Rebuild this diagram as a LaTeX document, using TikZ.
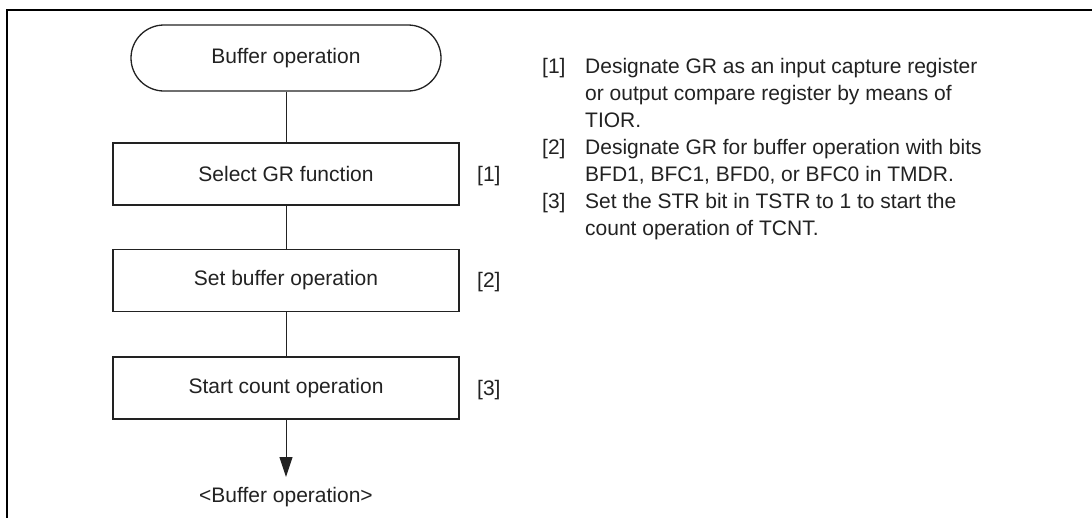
\documentclass[tikz,border=0pt]{standalone}
\usepackage{fontspec}
\setmainfont{Liberation Sans}
\usetikzlibrary{arrows.meta}
\definecolor{ink}{HTML}{222222}
\begin{document}
\begin{tikzpicture}[x=1pt,y=-1pt,
  font=\fontsize{21}{27}\selectfont, text=ink,
  term/.style={draw=ink, line width=1.3pt, rounded corners=33pt, minimum width=310pt, minimum height=66pt, inner sep=0pt},
  stepbox/.style={draw=ink, line width=1.3pt, minimum width=346pt, minimum height=62pt, inner sep=0pt},
  conn/.style={draw=ink, line width=1pt},
  tag/.style={anchor=west, inner sep=0pt},
  line/.style={anchor=base west, inner sep=0pt}]
\useasboundingbox (0,0) rectangle (1092,517);
\fill[white] (0,0) rectangle (1092,517);
\draw[line width=2.2pt, black] (7,518) -- (7,10) -- (1093,10);

\node[term] (start) at (286,58) {Buffer operation};
\node[stepbox] (b1) at (286,174) {Select GR function};
\node[stepbox] (b2) at (286,280.5) {Set buffer operation};
\node[stepbox] (b3) at (286,388) {Start count operation};
\coordinate (endc) at (286,477);
\node[anchor=base, inner sep=0pt] (endt) at (286,502) {<Buffer operation>};

\node[tag] (l1) at (477,176) {[1]};
\node[tag] (l2) at (477,282.5) {[2]};
\node[tag] (l3) at (477,390) {[3]};

\draw[conn] (start) -- (b1);
\draw[conn] (b1) -- (b2);
\draw[conn] (b2) -- (b3);
\draw[conn, -{Triangle[length=20pt,width=13pt]}] (b3) -- (endc);

\node[line] (n1) at (542,73) {[1]};
\node[line] (t1a) at (585,73) {Designate GR as an input capture register};
\node[line] (t1b) at (585,100) {or output compare register by means of};
\node[line] (t1c) at (585,127) {TIOR.};
\node[line] (n2) at (542,154) {[2]};
\node[line] (t2a) at (585,154) {Designate GR for buffer operation with bits};
\node[line] (t2b) at (585,181) {BFD1, BFC1, BFD0, or BFC0 in TMDR.};
\node[line] (n3) at (542,208) {[3]};
\node[line] (t3a) at (585,208) {Set the STR bit in TSTR to 1 to start the};
\node[line] (t3b) at (585,235) {count operation of TCNT.};
\end{tikzpicture}
\end{document}
